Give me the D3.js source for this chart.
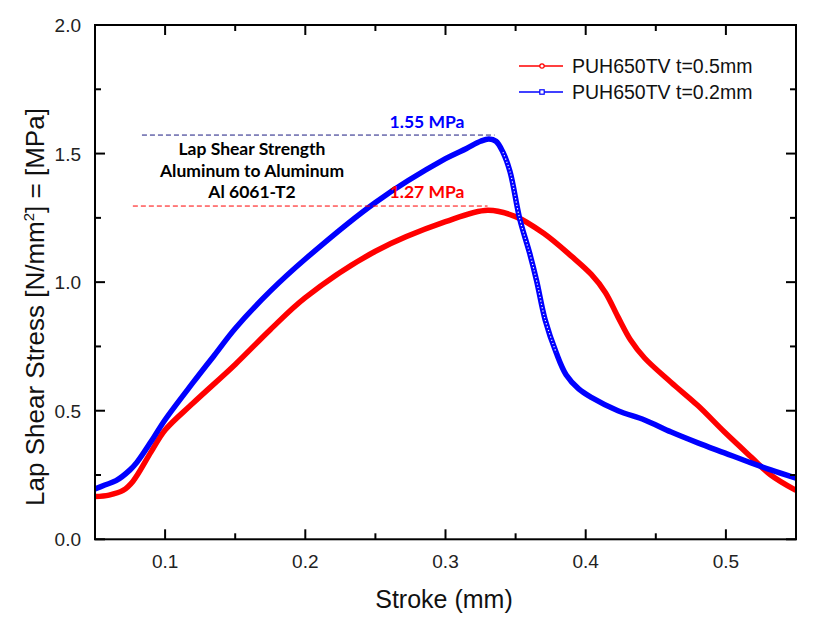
<!DOCTYPE html>
<html><head><meta charset="utf-8">
<script src="https://cdn.jsdelivr.net/npm/d3@7"></script>
<style>body{margin:0;background:#fff}svg{display:block}</style>
</head><body>
<svg id="c" width="823" height="617"></svg>
<script>
const redX = [0.05,0.06,0.07,0.077,0.09,0.1,0.12,0.15,0.175,0.2,0.25,0.3,0.33,0.35,0.37,0.39,0.404,0.414,0.423,0.432,0.442,0.461,0.48,0.499,0.518,0.532,0.55];
const redY = [0.166,0.172,0.19,0.225,0.34,0.425,0.53,0.68,0.815,0.94,1.12,1.235,1.28,1.255,1.19,1.10,1.03,0.96,0.865,0.775,0.705,0.61,0.52,0.417,0.32,0.25,0.19];
const blueX = [0.05,0.057,0.065,0.075,0.08,0.09,0.1,0.12,0.135,0.15,0.175,0.2,0.25,0.3,0.315,0.325,0.331,0.336,0.341,0.346,0.353,0.36,0.365,0.371,0.379,0.386,0.395,0.404,0.423,0.442,0.461,0.48,0.499,0.518,0.532,0.55];
const blueY = [0.196,0.211,0.228,0.27,0.30,0.38,0.465,0.61,0.715,0.82,0.965,1.09,1.31,1.48,1.52,1.548,1.557,1.548,1.505,1.43,1.245,1.113,1.005,0.855,0.725,0.64,0.585,0.552,0.50,0.464,0.417,0.375,0.336,0.297,0.27,0.238];
const seriesNames = ["PUH650TV t=0.5mm","PUH650TV t=0.2mm"];
const xTicks = [0.1,0.2,0.3,0.4,0.5];
const xMinor = [0.05,0.15,0.25,0.35,0.45,0.55];
const yTicks = [0.0,0.5,1.0,1.5,2.0];
const yMinor = [0.25,0.75,1.25,1.75];
const peakBlue = 1.572, peakRed = 1.296;

const svg = d3.select("#c");
const L=95,R=796,T=25,B=539.3;
const x = d3.scaleLinear().domain([0.05,0.55]).range([L,R]);
const y = d3.scaleLinear().domain([0,2]).range([B,T]);

svg.append("clipPath").attr("id","cp").append("rect").attr("x",L).attr("y",T).attr("width",R-L).attr("height",B-T);

const line = d3.line().x(d=>x(d[0])).y(d=>y(d[1])).curve(d3.curveCatmullRom.alpha(0.5));
const g = svg.append("g").attr("clip-path","url(#cp)");
const redPts = redX.map((v,i)=>[v,redY[i]]);
const bluePts = blueX.map((v,i)=>[v,blueY[i]]);
g.append("path").datum(redPts).attr("d",line).attr("fill","none").attr("stroke","#ff0000").attr("stroke-width",5.5);
g.append("path").datum(bluePts).attr("d",line).attr("fill","none").attr("stroke","#0000ff").attr("stroke-width",5.5);
// hollow marker centres visible along the steep drop
const steep = bluePts.filter(d=>d[0]>=0.341 && d[0]<=0.379);
g.append("path").datum(steep).attr("d",line).attr("fill","none").attr("stroke","#fff").attr("stroke-width",1.2).attr("stroke-dasharray","1.2,2.2");

// dashed annotation lines
svg.append("line").attr("x1",x(0.0835)).attr("x2",x(0.335)).attr("y1",y(peakBlue)).attr("y2",y(peakBlue)).attr("stroke","#1a1a80").attr("stroke-width",1).attr("stroke-dasharray","5,3");
svg.append("line").attr("x1",x(0.077)).attr("x2",x(0.33)).attr("y1",y(peakRed)).attr("y2",y(peakRed)).attr("stroke","#ff0000").attr("stroke-width",1).attr("stroke-dasharray","5,3");

const af = "Lato, 'Open Sans', sans-serif";
svg.append("text").attr("x",427).attr("y",128).attr("text-anchor","middle").attr("font-family",af).attr("font-weight","bold").attr("font-size",17.5).attr("fill","#0000ff").text("1.55 MPa");
svg.append("text").attr("x",427).attr("y",198).attr("text-anchor","middle").attr("font-family",af).attr("font-weight","bold").attr("font-size",17.5).attr("fill","#ff0000").text("1.27 MPa");
["Lap Shear Strength","Aluminum to Aluminum","Al 6061-T2"].forEach((t,i)=>{
  svg.append("text").attr("x",252).attr("y",155+i*21.5).attr("text-anchor","middle").attr("font-family",af).attr("font-weight","bold").attr("font-size",17.5).attr("fill","#000").text(t);
});

// axes frame
const ax = svg.append("g").attr("stroke","#000").attr("stroke-width",2);
ax.append("rect").attr("x",L).attr("y",T).attr("width",R-L).attr("height",B-T).attr("fill","none");
xTicks.forEach(v=>{
  ax.append("line").attr("x1",x(v)).attr("x2",x(v)).attr("y1",B).attr("y2",B-10);
  ax.append("line").attr("x1",x(v)).attr("x2",x(v)).attr("y1",T).attr("y2",T+10);
});
xMinor.forEach(v=>{
  ax.append("line").attr("x1",x(v)).attr("x2",x(v)).attr("y1",B).attr("y2",B-6);
  ax.append("line").attr("x1",x(v)).attr("x2",x(v)).attr("y1",T).attr("y2",T+6);
});
yTicks.forEach(v=>{
  ax.append("line").attr("y1",y(v)).attr("y2",y(v)).attr("x1",L).attr("x2",L+10);
  ax.append("line").attr("y1",y(v)).attr("y2",y(v)).attr("x1",R).attr("x2",R-10);
});
yMinor.forEach(v=>{
  ax.append("line").attr("y1",y(v)).attr("y2",y(v)).attr("x1",L).attr("x2",L+6);
  ax.append("line").attr("y1",y(v)).attr("y2",y(v)).attr("x1",R).attr("x2",R-6);
});

const tf = "'Liberation Sans', Arimo, Arial, sans-serif";
xTicks.forEach(v=>{
  svg.append("text").attr("x",x(v)).attr("y",568).attr("text-anchor","middle").attr("font-family",tf).attr("font-size",19).attr("fill","#222").text(d3.format(".1f")(v));
});
yTicks.forEach(v=>{
  svg.append("text").attr("x",81).attr("y",y(v)+7).attr("text-anchor","end").attr("font-family",tf).attr("font-size",19).attr("fill","#222").text(d3.format(".1f")(v));
});
svg.append("text").attr("x",444).attr("y",608).attr("text-anchor","middle").attr("font-family",tf).attr("font-size",25).attr("fill","#111").text("Stroke (mm)");
const yt = svg.append("text").attr("transform","translate(44,307) rotate(-90)").attr("text-anchor","middle").attr("font-family",tf).attr("font-size",26).attr("fill","#111");
yt.append("tspan").text("Lap Shear Stress [N/mm");
yt.append("tspan").attr("dy",-10).attr("font-size",15).text("2");
yt.append("tspan").attr("dy",10).text("] = [MPa]");

// legend
const lg = svg.append("g");
[["#ff0000","c"],["#0000ff","s"]].forEach((d,i)=>{
  const yy = 66+i*26;
  lg.append("line").attr("x1",519).attr("x2",563).attr("y1",yy).attr("y2",yy).attr("stroke",d[0]).attr("stroke-width",1.5);
  if(d[1]==="c") lg.append("circle").attr("cx",542).attr("cy",yy).attr("r",2.2).attr("fill","#fff").attr("stroke",d[0]).attr("stroke-width",1.2);
  else lg.append("rect").attr("x",539.8).attr("y",yy-2.2).attr("width",4.4).attr("height",4.4).attr("fill","#fff").attr("stroke",d[0]).attr("stroke-width",1.2);
  lg.append("text").attr("x",572).attr("y",yy+7).attr("font-family",tf).attr("font-size",19.5).attr("fill","#111").text(seriesNames[i]);
});
</script>
</body></html>
